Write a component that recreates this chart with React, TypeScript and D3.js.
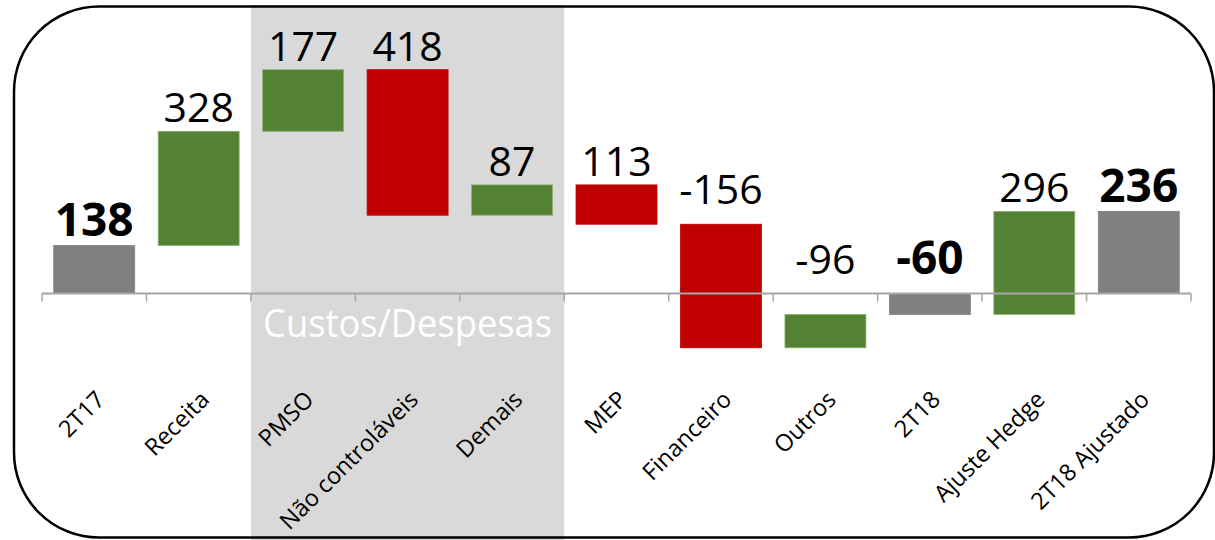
import React from "react";
import * as d3 from "d3";

const categories = ["2T17", "Receita", "PMSO", "Não controláveis", "Demais", "MEP", "Financeiro", "Outros", "2T18", "Ajuste Hedge", "2T18 Ajustado"];
const values = [138, 328, 177, -418, 87, -113, -355, 96, -60, 296, 236];
const kinds = ["total", "inc", "inc", "dec", "inc", "dec", "dec", "inc", "total", "inc", "total"];
const valueLabels = ["138", "328", "177", "418", "87", "113", "-156", "-96", "-60", "296", "236"];
const groupCategories = ["PMSO", "Não controláveis", "Demais"];
const groupLabel = "Custos/Despesas";

const W = 1215;
const H = 540;
const FONT = "'Open Sans', 'DejaVu Sans', sans-serif";
const colors: Record<string, string> = { total: "#808080", inc: "#548235", dec: "#C00000" };
const edge: Record<string, string> = { total: "#808080", inc: "#8fb070", dec: "#C00000" };

export default function App() {
  const x = d3.scaleBand<string>().domain(categories).range([42, 1191]).paddingInner(0.225).paddingOuter(0.1125);
  const y = d3.scaleLinear().domain([0, 643]).range([293.5, 69.7]);
  const step = x.step();
  const bw = x.bandwidth();
  const gapHalf = (step - bw) / 2;

  let running = 0;
  const bars = categories.map((c, i) => {
    let start: number, end: number;
    if (kinds[i] === "total") {
      start = 0;
      end = values[i];
      running = values[i];
    } else {
      start = running;
      end = running + values[i];
      running = end;
    }
    return { c, start, end, kind: kinds[i], label: valueLabels[i] };
  });

  const gx0 = (x(groupCategories[0]) as number) - gapHalf;
  const gx1 = (x(groupCategories[groupCategories.length - 1]) as number) + bw + gapHalf;

  const boundaries = d3.range(categories.length + 1).map((i) => (x(categories[0]) as number) - gapHalf + i * step);

  return (
    <svg width={W} height={H} style={{ position: "absolute", left: 0, top: 0, background: "#fff" }} fontFamily={FONT}>
      <rect x={gx0} y={5} width={gx1 - gx0} height={H - 5} fill="#d9d9d9" />
      <text x={(gx0 + gx1) / 2} y={337} textAnchor="middle" fontSize={38} fill="#ffffff" textLength={289} lengthAdjust="spacingAndGlyphs">
        {groupLabel}
      </text>
      {bars.map((b, i) => {
        const top = Math.min(y(b.start), y(b.end));
        const bottom = Math.max(y(b.start), y(b.end));
        return (
          <rect key={"b" + i} x={x(b.c)} y={top} width={bw} height={bottom - top} fill={colors[b.kind]} stroke={edge[b.kind]} strokeWidth={0.8} />
        );
      })}
      <line x1={boundaries[0]} x2={boundaries[boundaries.length - 1]} y1={y(0)} y2={y(0)} stroke="#a6a6a6" strokeWidth={2} />
      {boundaries.map((bx, i) => (
        <line key={"t" + i} x1={bx} x2={bx} y1={y(0)} y2={y(0) + 8} stroke="#a6a6a6" strokeWidth={1.5} />
      ))}
      {bars.map((b, i) => {
        const topVal = Math.max(b.start, b.end, 0);
        const gap = b.label.startsWith("-") ? 20 : 9;
        const bold = b.kind === "total";
        return (
          <text
            key={"l" + i}
            x={(x(b.c) as number) + bw / 2}
            y={y(topVal) - gap}
            textAnchor="middle"
            fontSize={bold ? 46 : 41}
            fontWeight={bold ? 700 : 400}
            fill="#000"
          >
            {b.label}
          </text>
        );
      })}
      {categories.map((c, i) => {
        const ax = (x(c) as number) + bw / 2 + 12;
        const ay = 401;
        return (
          <text key={"c" + i} x={ax} y={ay} textAnchor="end" fontSize={23.5} fill="#000" transform={`rotate(-45, ${ax}, ${ay})`}>
            {c}
          </text>
        );
      })}
      <rect x={14} y={6.5} width={1200} height={531} rx={85} ry={85} fill="none" stroke="#000" strokeWidth={2.5} />
    </svg>
  );
}
